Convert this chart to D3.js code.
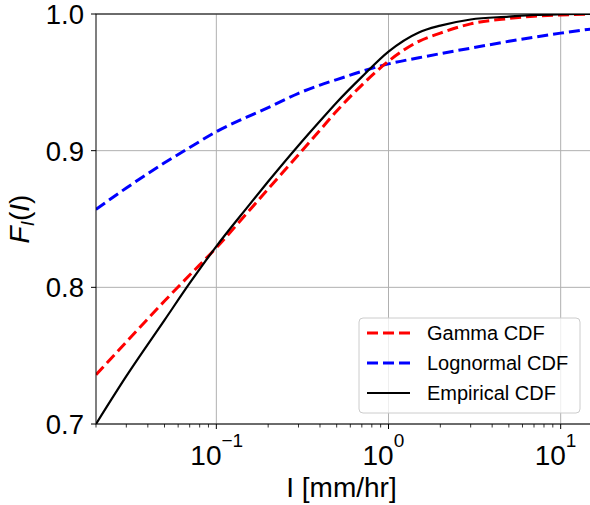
<!DOCTYPE html>
<html>
<head>
<meta charset="utf-8">
<script src="https://cdn.jsdelivr.net/npm/d3@7"></script>
<style>
  body { margin: 0; background: #fff; }
  svg { font-family: "Liberation Sans", Arial, sans-serif; }
</style>
</head>
<body>
<div id="chart"></div>
<script>
// rain intensity grid [mm/hr]
const intensity = [0.02, 0.03, 0.05, 0.07, 0.1, 0.15, 0.2, 0.3, 0.4, 0.5, 0.7, 1, 1.5, 2, 3, 5, 7, 10, 15];
const gammaCdf = [0.736, 0.760, 0.790, 0.809, 0.829, 0.854, 0.872, 0.897, 0.915, 0.929, 0.948, 0.9655, 0.980, 0.986, 0.9928, 0.9967, 0.9984, 0.9993, 0.9998];
const lognormCdf = [0.857, 0.8727, 0.8911, 0.9023, 0.9139, 0.9245, 0.9315, 0.942, 0.948, 0.952, 0.958, 0.9635, 0.968, 0.971, 0.975, 0.980, 0.983, 0.986, 0.989];
const empiricalCdf = [0.700, 0.735, 0.776, 0.803, 0.830, 0.858, 0.8774, 0.9038, 0.9217, 0.9353, 0.954, 0.9725, 0.9865, 0.9915, 0.996, 0.9981, 0.9993, 0.9998, 1.0];

const yTicks = [0.7, 0.8, 0.9, 1.0];
const xTicks = [0.1, 1, 10];
const xTickExp = ["\u22121", "0", "1"];
const seriesNames = ["Gamma CDF", "Lognormal CDF", "Empirical CDF"];

const W = 590, H = 505;
const mLeft = 96, mRight = 591, mTop = 14, mBottom = 424;

const svg = d3.select("#chart").append("svg")
    .attr("width", W)
    .attr("height", H);

const x = d3.scaleLog().domain([0.02, 15]).range([mLeft, mRight]);
const y = d3.scaleLinear().domain([0.7, 1.0]).range([mBottom, mTop]);

svg.append("defs").append("clipPath").attr("id", "clip")
    .append("rect")
    .attr("x", mLeft).attr("y", mTop)
    .attr("width", mRight - mLeft).attr("height", mBottom - mTop);

// grid
const grid = svg.append("g");
grid.selectAll(".gx").data(xTicks).join("line")
    .attr("x1", d => x(d)).attr("x2", d => x(d))
    .attr("y1", mTop).attr("y2", mBottom)
    .attr("stroke", "#b0b0b0").attr("stroke-width", 1);
grid.selectAll(".gy").data(yTicks).join("line")
    .attr("x1", mLeft).attr("x2", mRight)
    .attr("y1", d => y(d)).attr("y2", d => y(d))
    .attr("stroke", "#b0b0b0").attr("stroke-width", 1);

// minor ticks on x
let minor = [];
for (let e = -2; e <= 1; e++) {
    for (let m = 2; m <= 9; m++) {
        const v = m * Math.pow(10, e);
        if (v >= 0.02 && v <= 15) minor.push(v);
    }
}
svg.append("g").selectAll("line").data(minor).join("line")
    .attr("x1", d => x(d)).attr("x2", d => x(d))
    .attr("y1", mBottom).attr("y2", mBottom + 3.5)
    .attr("stroke", "#000").attr("stroke-width", 0.8);

// major x ticks
const xt = svg.append("g").selectAll("g").data(xTicks).join("g")
    .attr("transform", d => `translate(${x(d)},${mBottom})`);
xt.append("line").attr("y2", 5).attr("stroke", "#000").attr("stroke-width", 1);
const xtText = xt.append("text")
    .attr("x", -26)
    .attr("y", 41)
    .attr("font-size", 28)
    .attr("fill", "#000");
xtText.append("tspan").text("10");
xtText.append("tspan")
    .attr("font-size", 19)
    .attr("dy", -18)
    .text((d, i) => xTickExp[i]);

// y ticks
const yt = svg.append("g").selectAll("g").data(yTicks).join("g")
    .attr("transform", d => `translate(${mLeft},${y(d)})`);
yt.append("line").attr("x2", -5).attr("stroke", "#000").attr("stroke-width", 1);
yt.append("text")
    .attr("x", -12)
    .attr("dy", "0.36em")
    .attr("text-anchor", "end")
    .attr("font-size", 27.5)
    .attr("fill", "#000")
    .text(d => d.toFixed(1));

// lines
const line = d3.line()
    .x((d, i) => x(intensity[i]))
    .y(d => y(d))
    .curve(d3.curveMonotoneX);

const plot = svg.append("g").attr("clip-path", "url(#clip)");
plot.append("path").datum(lognormCdf)
    .attr("d", line).attr("fill", "none")
    .attr("stroke", "#0000ff").attr("stroke-width", 3)
    .attr("stroke-dasharray", "11,5");
plot.append("path").datum(gammaCdf)
    .attr("d", line).attr("fill", "none")
    .attr("stroke", "#ff0000").attr("stroke-width", 3)
    .attr("stroke-dasharray", "11,5");
plot.append("path").datum(empiricalCdf)
    .attr("d", line).attr("fill", "none")
    .attr("stroke", "#000").attr("stroke-width", 2.2);

// spines
svg.append("rect")
    .attr("x", mLeft).attr("y", mTop)
    .attr("width", mRight - mLeft).attr("height", mBottom - mTop)
    .attr("fill", "none").attr("stroke", "#000").attr("stroke-width", 1);

// axis labels
svg.append("text")
    .attr("x", (mLeft + mRight) / 2 - 2)
    .attr("y", 497)
    .attr("text-anchor", "middle")
    .attr("font-size", 28)
    .text("I [mm/hr]");

const yl = svg.append("text")
    .attr("transform", `translate(29,${(mTop + mBottom) / 2}) rotate(-90)`)
    .attr("text-anchor", "middle")
    .attr("font-size", 28);
yl.append("tspan").attr("font-style", "italic").text("F");
yl.append("tspan").attr("font-style", "italic").attr("font-size", 19).attr("dy", 5).text("I");
yl.append("tspan").attr("dy", -5).text("(");
yl.append("tspan").attr("font-style", "italic").text("I");
yl.append("tspan").text(")");

// legend
const legend = svg.append("g");
legend.append("rect")
    .attr("x", 359).attr("y", 318)
    .attr("width", 221).attr("height", 95)
    .attr("rx", 4)
    .attr("fill", "#fff").attr("fill-opacity", 0.8)
    .attr("stroke", "#cccccc").attr("stroke-width", 1);
const legendColors = ["#ff0000", "#0000ff", "#000"];
const legendDash = ["11,5", "11,5", null];
const legendWidth = [3, 3, 2.2];
const rows = legend.selectAll(".row").data(seriesNames).join("g")
    .attr("transform", (d, i) => `translate(0,${333 + i * 30})`);
rows.append("line")
    .attr("x1", 367).attr("x2", 410)
    .attr("stroke", (d, i) => legendColors[i])
    .attr("stroke-width", (d, i) => legendWidth[i])
    .attr("stroke-dasharray", (d, i) => legendDash[i]);
rows.append("text")
    .attr("x", 427)
    .attr("dy", "0.36em")
    .attr("font-size", 20)
    .text(d => d);
</script>
</body>
</html>
